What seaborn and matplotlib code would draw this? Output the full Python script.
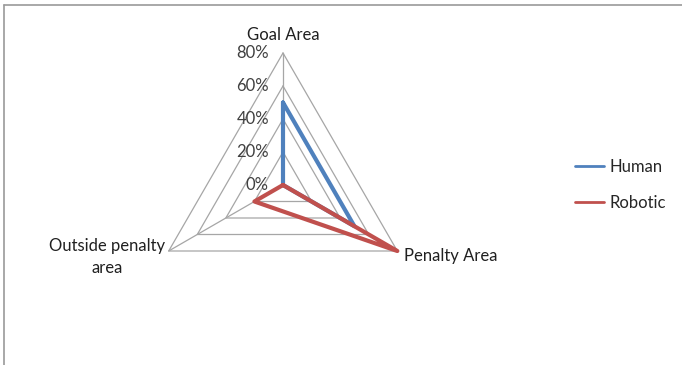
import matplotlib.pyplot as plt
import seaborn as sns
import numpy as np
import pandas as pd

categories = ['Goal Area', 'Penalty Area', 'Outside penalty\narea']
human = [0.50, 0.50, 0.00]
robotic = [0.00, 0.80, 0.20]
tick_values = [0.0, 0.2, 0.4, 0.6, 0.8]
tick_labels = ['0%', '20%', '40%', '60%', '80%']

sns.set_theme(style="white")
plt.rcParams['font.family'] = ['Lato', 'DejaVu Sans']

angles = np.deg2rad([90, -30, 210])


def to_xy(values):
    v = np.asarray(values, dtype=float)
    return v * np.cos(angles), v * np.sin(angles)


rows = []
for name, vals in [('Human', human), ('Robotic', robotic)]:
    x, y = to_xy(vals)
    for i in list(range(len(vals))) + [0]:
        rows.append({'series': name, 'x': x[i], 'y': y[i]})
df = pd.DataFrame(rows)

fig = plt.figure(figsize=(6.82, 3.65), dpi=100)
# square axes, radar centre at pixel (283, 180 from bottom)
size = 300
ax = fig.add_axes([(283 - size / 2) / 682, (180 - size / 2) / 365, size / 682, size / 365])
lim = 0.8 * (size / 2) / 132
ax.set_xlim(-lim, lim)
ax.set_ylim(-lim, lim)
ax.set_aspect('equal')
ax.axis('off')

grid_color = '#a6a6a6'
for t in tick_values[1:]:
    gx, gy = to_xy([t] * 3)
    ax.plot(np.append(gx, gx[0]), np.append(gy, gy[0]), color=grid_color, lw=0.9, zorder=1)
sx, sy = to_xy([tick_values[-1]] * 3)
for i in range(3):
    ax.plot([0, sx[i]], [0, sy[i]], color=grid_color, lw=0.9, zorder=1)

sns.lineplot(data=df, x='x', y='y', hue='series', sort=False, estimator=None,
             units='series', palette={'Human': '#4F81BD', 'Robotic': '#C0504D'},
             lw=3, ax=ax, zorder=3)

# radial tick labels
for t, lab in zip(tick_values, tick_labels):
    ax.text(-0.085, t, lab, ha='right', va='center', fontsize=12, color='#404040')

# category labels
ax.text(sx[0], sy[0] + 0.11, categories[0], ha='center', va='center', fontsize=12, color='#202020')
ax.text(sx[1] + 0.04, sy[1] - 0.03, categories[1], ha='left', va='center', fontsize=12, color='#202020')
ax.text(sx[2] - 0.02, sy[2] - 0.035, categories[2], ha='right', va='center', fontsize=12,
        color='#202020', multialignment='center', linespacing=1.45)

leg = ax.legend(loc='center left', bbox_to_anchor=((560 - (283 - size / 2)) / size, 0.5),
                frameon=False, fontsize=12, handlelength=1.75, handletextpad=0.35,
                labelspacing=1.2, title=None)
for line in leg.get_lines():
    line.set_linewidth(2)

# chart frame (top and left edge)
fig.add_artist(plt.Line2D([4 / 682, 4 / 682], [0, 1 - 5 / 365], color='#9a9a9a', lw=1.2))
fig.add_artist(plt.Line2D([4 / 682, 1], [1 - 5 / 365, 1 - 5 / 365], color='#9a9a9a', lw=1.2))

fig.savefig('out.png', dpi=100)
